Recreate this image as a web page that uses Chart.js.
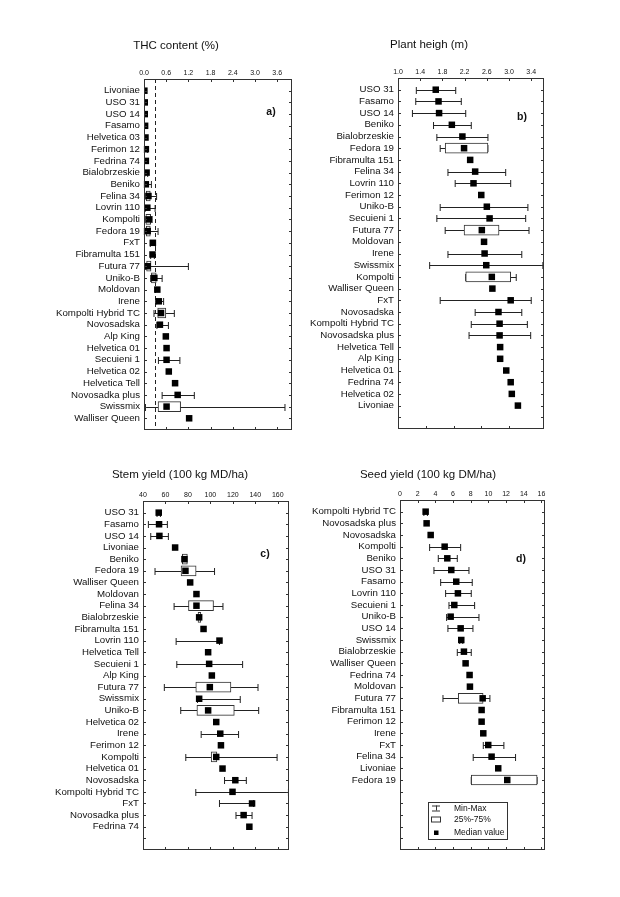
<!DOCTYPE html>
<html>
<head>
<meta charset="utf-8">
<script src="https://cdn.jsdelivr.net/npm/chart.js@4.4.1/dist/chart.umd.min.js"></script>
<style>
  body { margin: 0; background: #fff; width: 620px; height: 897px; position: relative; overflow: hidden; }
  canvas { position: absolute; }
</style>
</head>
<body>
<canvas id="thc" width="310" height="448" style="left:0;top:0"></canvas>
<canvas id="height" width="310" height="448" style="left:310px;top:0"></canvas>
<canvas id="stem" width="310" height="449" style="left:0;top:448px"></canvas>
<canvas id="seed" width="310" height="449" style="left:310px;top:448px"></canvas>
<script>
// a) THC content (%)
const thcNames = ['Livoniae', 'USO 31', 'USO 14', 'Fasamo', 'Helvetica 03', 'Ferimon 12', 'Fedrina 74',
  'Bialobrzeskie', 'Beniko', 'Felina 34', 'Lovrin 110', 'Kompolti', 'Fedora 19', 'FxT', 'Fibramulta 151',
  'Futura 77', 'Uniko-B', 'Moldovan', 'Irene', 'Kompolti Hybrid TC', 'Novosadska', 'Alp King',
  'Helvetica 01', 'Secuieni 1', 'Helvetica 02', 'Helvetica Tell', 'Novosadka plus', 'Swissmix', 'Walliser Queen'];
const thcMed = [0.01, 0.02, 0.02, 0.03, 0.04, 0.05, 0.05, 0.07, 0.05, 0.12, 0.09, 0.13, 0.10, 0.24, 0.23,
  0.10, 0.28, 0.36, 0.40, 0.46, 0.43, 0.59, 0.61, 0.61, 0.67, 0.84, 0.91, 0.61, 1.22];
const thcMin = [null, null, null, null, null, 0.01, null, 0.02, 0.01, 0.02, 0.03, 0.03, 0.01, 0.17, 0.18,
  0.05, 0.18, null, 0.32, 0.27, 0.35, null, null, 0.39, null, null, 0.49, 0.04, null];
const thcMax = [null, null, null, null, null, 0.09, null, 0.10, 0.20, 0.34, 0.30, 0.22, 0.38, 0.31, 0.28,
  1.20, 0.49, null, 0.53, 0.82, 0.66, null, null, 0.97, null, null, 1.36, 3.81, null];
const thcQ1 = [null, null, null, null, null, null, null, null, null, 0.06, null, 0.05, 0.06, null, null,
  0.07, 0.20, null, null, 0.37, null, null, null, null, null, null, null, 0.38, null];
const thcQ3 = [null, null, null, null, null, null, null, null, null, 0.17, null, 0.18, 0.17, null, null,
  0.19, 0.33, null, null, 0.59, null, null, null, null, null, null, null, 0.99, null];
const thcTicks = [0, 0.6, 1.2, 1.8, 2.4, 3.0, 3.6];
const thcLimit = 0.3;

// b) Plant heigh (m)
const hgtNames = ['USO 31', 'Fasamo', 'USO 14', 'Beniko', 'Bialobrzeskie', 'Fedora 19', 'Fibramulta 151',
  'Felina 34', 'Lovrin 110', 'Ferimon 12', 'Uniko-B', 'Secuieni 1', 'Futura 77', 'Moldovan', 'Irene',
  'Swissmix', 'Kompolti', 'Walliser Queen', 'FxT', 'Novosadska', 'Kompolti Hybrid TC', 'Novosadska plus',
  'Helvetica Tell', 'Alp King', 'Helvetica 01', 'Fedrina 74', 'Helvetica 02', 'Livoniae'];
const hgtMed = [1.68, 1.73, 1.74, 1.97, 2.16, 2.19, 2.30, 2.39, 2.36, 2.50, 2.60, 2.65, 2.51, 2.55, 2.56,
  2.59, 2.69, 2.70, 3.03, 2.81, 2.83, 2.83, 2.84, 2.84, 2.95, 3.03, 3.05, 3.16];
const hgtMin = [1.33, 1.32, 1.26, 1.64, 1.70, 1.76, null, 1.90, 2.03, null, 1.76, 1.70, 1.85, null, 1.90,
  1.57, 2.22, null, 1.76, 2.39, 2.32, 2.28, null, null, null, null, null, null];
const hgtMax = [2.04, 2.14, 2.22, 2.32, 2.62, 2.62, null, 2.94, 3.03, null, 3.34, 3.30, 3.36, null, 3.23,
  3.61, 3.13, null, 3.40, 3.23, 3.33, 3.39, null, null, null, null, null, null];
const hgtQ1 = [null, null, null, null, null, 1.85, null, null, null, null, null, null, 2.19, null, null,
  null, 2.22, null, null, null, null, null, null, null, null, null, null, null];
const hgtQ3 = [null, null, null, null, null, 2.62, null, null, null, null, null, null, 2.82, null, null,
  null, 3.03, null, null, null, null, null, null, null, null, null, null, null];
const hgtTicks = [1.0, 1.4, 1.8, 2.2, 2.6, 3.0, 3.4];
const hgtBottomTicks = [1.5, 2.0, 2.5, 3.0];

// c) Stem yield (100 kg MD/ha)
const stemNames = ['USO 31', 'Fasamo', 'USO 14', 'Livoniae', 'Beniko', 'Fedora 19', 'Walliser Queen',
  'Moldovan', 'Felina 34', 'Bialobrzeskie', 'Fibramulta 151', 'Lovrin 110', 'Helvetica Tell', 'Secuieni 1',
  'Alp King', 'Futura 77', 'Swissmix', 'Uniko-B', 'Helvetica 02', 'Irene', 'Ferimon 12', 'Kompolti',
  'Helvetica 01', 'Novosadska', 'Kompolti Hybrid TC', 'FxT', 'Novosadka plus', 'Fedrina 74'];
const stemMed = [54.0, 54.3, 54.6, 68.6, 76.9, 77.8, 82.0, 87.6, 87.6, 90.0, 93.9, 108.1, 98.0, 98.9,
  101.3, 99.5, 90.0, 98.0, 105.2, 108.8, 109.4, 105.2, 110.8, 122.2, 119.7, 137.1, 129.6, 134.7];
const stemMin = [52.5, 44.8, 46.9, null, null, 50.7, null, null, 67.7, null, null, 69.5, null, 70.1,
  null, 59.0, 88.5, 73.6, null, 91.8, null, 78.1, null, 112.6, 87.0, 108.1, 122.8, null];
const stemMax = [55.5, 61.7, 62.6, null, null, 103.7, null, null, 111.2, null, null, 108.1, null, 128.7,
  null, 142.4, 126.6, 143.0, null, 125.1, null, 159.4, null, 132.0, 169.5, 138.5, 137.1, null];
const stemQ1 = [null, null, null, null, 75.0, 73.9, null, null, 80.5, 89.0, null, null, null, null,
  null, 87.0, null, 88.0, null, null, null, 100.7, null, null, null, null, null, null];
const stemQ3 = [null, null, null, null, 79.5, 87.3, null, null, 102.8, 91.5, null, null, null, null,
  null, 118.3, null, 121.3, null, null, null, 105.8, null, null, null, null, null, null];
const stemTicks = [40, 60, 80, 100, 120, 140, 160];

// d) Seed yield (100 kg DM/ha)
const seedNames = ['Kompolti Hybrid TC', 'Novosadska plus', 'Novosadska', 'Kompolti', 'Beniko', 'USO 31',
  'Fasamo', 'Lovrin 110', 'Secuieni 1', 'Uniko-B', 'USO 14', 'Swissmix', 'Bialobrzeskie', 'Walliser Queen',
  'Fedrina 74', 'Moldovan', 'Futura 77', 'Fibramulta 151', 'Ferimon 12', 'Irene', 'FxT', 'Felina 34',
  'Livoniae', 'Fedora 19'];
const seedMed = [2.90, 3.01, 3.47, 5.05, 5.35, 5.80, 6.36, 6.55, 6.14, 5.73, 6.86, 6.93, 7.23, 7.42,
  7.87, 7.91, 9.35, 9.23, 9.23, 9.42, 9.98, 10.36, 11.11, 12.13];
const seedMin = [2.70, null, null, 3.35, 4.33, 3.84, 4.60, 5.16, 5.54, 5.27, 5.42, 6.75, 6.48, null,
  null, null, 4.86, null, null, null, 9.42, 8.28, null, 8.06];
const seedMax = [3.10, null, null, 6.86, 6.48, 7.80, 8.17, 8.06, 8.44, 8.93, 8.25, 7.10, 8.06, null,
  null, null, 10.17, null, null, null, 11.75, 13.07, null, 15.51];
const seedQ1 = [null, null, null, null, null, null, null, null, null, null, null, null, null, null,
  null, null, 6.59, null, null, null, null, null, null, 8.06];
const seedQ3 = [null, null, null, null, null, null, null, null, null, null, null, null, null, null,
  null, null, 9.40, null, null, null, null, null, null, 15.51];
const seedTicks = [0, 2, 4, 6, 8, 10, 12, 14, 16];

const legendItems = ['Min-Max', '25%-75%', 'Median value'];

Chart.defaults.font.family = "'Liberation Sans', Arial, Helvetica, sans-serif";
Chart.defaults.color = '#111';
const FONT = "'Liberation Sans', Arial, Helvetica, sans-serif";

// 31 slots on the category axis: one empty slot on top, the rest empty below
const SLOTS = 31;
const padLabels = names => ['', ...names, ...Array(SLOTS - 1 - names.length).fill('')];
const padVals = vals => [null, ...vals, ...Array(SLOTS - 1 - vals.length).fill(null)];

function makePanel(id, p) {
  const canvas = document.getElementById(id);
  const W = canvas.width, H = canvas.height;
  const area = p.area; // chart area in canvas px: left, top, right, bottom
  const lo = padVals(p.min), hi = padVals(p.max);
  const q1 = padVals(p.q1), q3 = padVals(p.q3);
  const boxes = q1.map((v, i) => v == null ? null : [v, q3[i]]);

  const extras = {
    id: 'extras',
    beforeDatasetsDraw(chart) {
      const { ctx, chartArea: ca, scales: { x, y } } = chart;
      ctx.save();
      ctx.strokeStyle = '#222';
      ctx.lineWidth = 1;
      lo.forEach((v, i) => {
        if (v == null) return;
        const yy = Math.round(y.getPixelForValue(i)) + 0.5;
        const x1 = x.getPixelForValue(v), x2 = x.getPixelForValue(hi[i]);
        ctx.beginPath();
        ctx.moveTo(x1, yy); ctx.lineTo(x2, yy);
        ctx.moveTo(x1, yy - 3.5); ctx.lineTo(x1, yy + 3.5);
        ctx.moveTo(x2, yy - 3.5); ctx.lineTo(x2, yy + 3.5);
        ctx.stroke();
      });
      if (p.limit != null) {
        const lx = Math.round(x.getPixelForValue(p.limit)) + 0.5;
        ctx.setLineDash([4, 3]);
        ctx.beginPath();
        ctx.moveTo(lx, ca.top); ctx.lineTo(lx, ca.bottom);
        ctx.stroke();
      }
      ctx.restore();
    },
    afterDraw(chart) {
      const { ctx, chartArea: ca, scales: { x, y } } = chart;
      ctx.save();
      ctx.strokeStyle = '#333';
      ctx.lineWidth = 1;
      ctx.strokeRect(ca.left + 0.5, ca.top + 0.5, ca.right - ca.left - 1, ca.bottom - ca.top - 1);
      ctx.beginPath();
      p.ticks.forEach(v => {
        const px = Math.round(x.getPixelForValue(v)) + 0.5;
        ctx.moveTo(px, ca.top); ctx.lineTo(px, ca.top + 3);
      });
      (p.bottomTicks || p.ticks).forEach(v => {
        const px = Math.round(x.getPixelForValue(v)) + 0.5;
        ctx.moveTo(px, ca.bottom); ctx.lineTo(px, ca.bottom - 3);
      });
      for (let i = 1; i < SLOTS - 1; i++) {
        const py = Math.round(y.getPixelForValue(i)) + 0.5;
        ctx.moveTo(ca.left, py); ctx.lineTo(ca.left + 3, py);
        ctx.moveTo(ca.right, py); ctx.lineTo(ca.right - 3, py);
      }
      ctx.stroke();

      ctx.fillStyle = '#111';
      ctx.textAlign = 'center';
      ctx.textBaseline = 'middle';
      ctx.font = '11.5px ' + FONT;
      ctx.fillText(p.title, p.titlePos[0], p.titlePos[1]);
      ctx.font = 'bold 10.5px ' + FONT;
      ctx.fillText(p.letter, p.letterPos[0], p.letterPos[1]);

      if (p.legend) {
        const [lx, ly, lw, lh] = p.legend;
        ctx.strokeRect(lx + 0.5, ly + 0.5, lw, lh);
        const rows = [ly + 6, ly + 17.5, ly + 30.5];
        const ix = lx + 8;
        // min-max symbol
        ctx.beginPath();
        ctx.moveTo(ix - 4, rows[0] - 2.5 + 0.5); ctx.lineTo(ix + 4, rows[0] - 2.5 + 0.5);
        ctx.moveTo(ix - 4, rows[0] + 2.5 + 0.5); ctx.lineTo(ix + 4, rows[0] + 2.5 + 0.5);
        ctx.moveTo(ix + 0.5, rows[0] - 2.5); ctx.lineTo(ix + 0.5, rows[0] + 2.5);
        ctx.stroke();
        // box symbol
        ctx.strokeRect(ix - 4.5, rows[1] - 2.5, 9, 5);
        // median symbol
        ctx.fillStyle = '#000';
        ctx.fillRect(ix - 2, rows[2] - 2, 4.5, 4.5);
        ctx.fillStyle = '#111';
        ctx.textAlign = 'left';
        ctx.font = '8.5px ' + FONT;
        legendItems.forEach((t, i) => ctx.fillText(t, lx + 26, rows[i] + 0.5));
      }
      ctx.restore();
    }
  };

  return new Chart(canvas, {
    type: 'bar',
    data: {
      labels: padLabels(p.names),
      datasets: [
        {
          type: 'line', indexAxis: 'y', data: padVals(p.med), showLine: false,
          pointStyle: 'rect', pointRadius: 4.6, pointBorderWidth: 0,
          pointBackgroundColor: '#000', borderColor: '#000', clip: 0, order: 0
        },
        {
          type: 'bar', indexAxis: 'y', data: boxes, backgroundColor: '#fff',
          borderColor: '#333', borderWidth: 1, borderSkipped: false, barThickness: 10, order: 1
        }
      ]
    },
    options: {
      indexAxis: 'y',
      responsive: false,
      animation: false,
      events: [],
      layout: { padding: { left: 0, top: 0, right: W - area[2], bottom: H - area[3] } },
      plugins: { legend: { display: false }, tooltip: { enabled: false } },
      scales: {
        x: {
          type: 'linear', position: 'top', min: p.xMin, max: p.xMax,
          afterBuildTicks: s => { s.ticks = p.ticks.map(v => ({ value: v })); },
          ticks: { font: { size: 7 }, padding: 2, maxRotation: 0, autoSkip: false, callback: v => p.fmt(v) },
          grid: { display: false, drawTicks: false },
          border: { display: false },
          afterFit: s => { s.height = area[1]; }
        },
        y: {
          type: 'category', offset: false,
          ticks: { autoSkip: false, font: { size: 9.7 }, padding: 4 },
          grid: { display: false, drawTicks: false },
          border: { display: false },
          afterFit: s => { s.width = area[0]; }
        }
      }
    },
    plugins: [extras]
  });
}

const oneDecimal = v => v.toFixed(1);
const whole = v => String(v);

makePanel('thc', {
  names: thcNames, med: thcMed, min: thcMin, max: thcMax, q1: thcQ1, q3: thcQ3,
  ticks: thcTicks, xMin: 0, xMax: 4.0, fmt: oneDecimal, limit: thcLimit,
  area: [144, 79, 292, 430], title: 'THC content (%)', titlePos: [176, 46],
  letter: 'a)', letterPos: [271, 112]
});
makePanel('height', {
  names: hgtNames, med: hgtMed, min: hgtMin, max: hgtMax, q1: hgtQ1, q3: hgtQ3,
  ticks: hgtTicks, bottomTicks: hgtBottomTicks, xMin: 1.0, xMax: 3.63, fmt: oneDecimal,
  area: [88, 78, 234, 429], title: 'Plant heigh (m)', titlePos: [119, 45],
  letter: 'b)', letterPos: [212, 117]
});
makePanel('stem', {
  names: stemNames, med: stemMed, min: stemMin, max: stemMax, q1: stemQ1, q3: stemQ3,
  ticks: stemTicks, xMin: 40, xMax: 170, fmt: whole,
  area: [143, 53, 289, 402], title: 'Stem yield (100 kg MD/ha)', titlePos: [180, 27],
  letter: 'c)', letterPos: [265, 106]
});
makePanel('seed', {
  names: seedNames, med: seedMed, min: seedMin, max: seedMax, q1: seedQ1, q3: seedQ3,
  ticks: seedTicks, xMin: 0, xMax: 16.4, fmt: whole,
  area: [90, 52, 235, 402], title: 'Seed yield (100 kg DM/ha)', titlePos: [118, 27],
  letter: 'd)', letterPos: [211, 111], legend: [118, 354, 79, 37]
});
</script>
</body>
</html>
